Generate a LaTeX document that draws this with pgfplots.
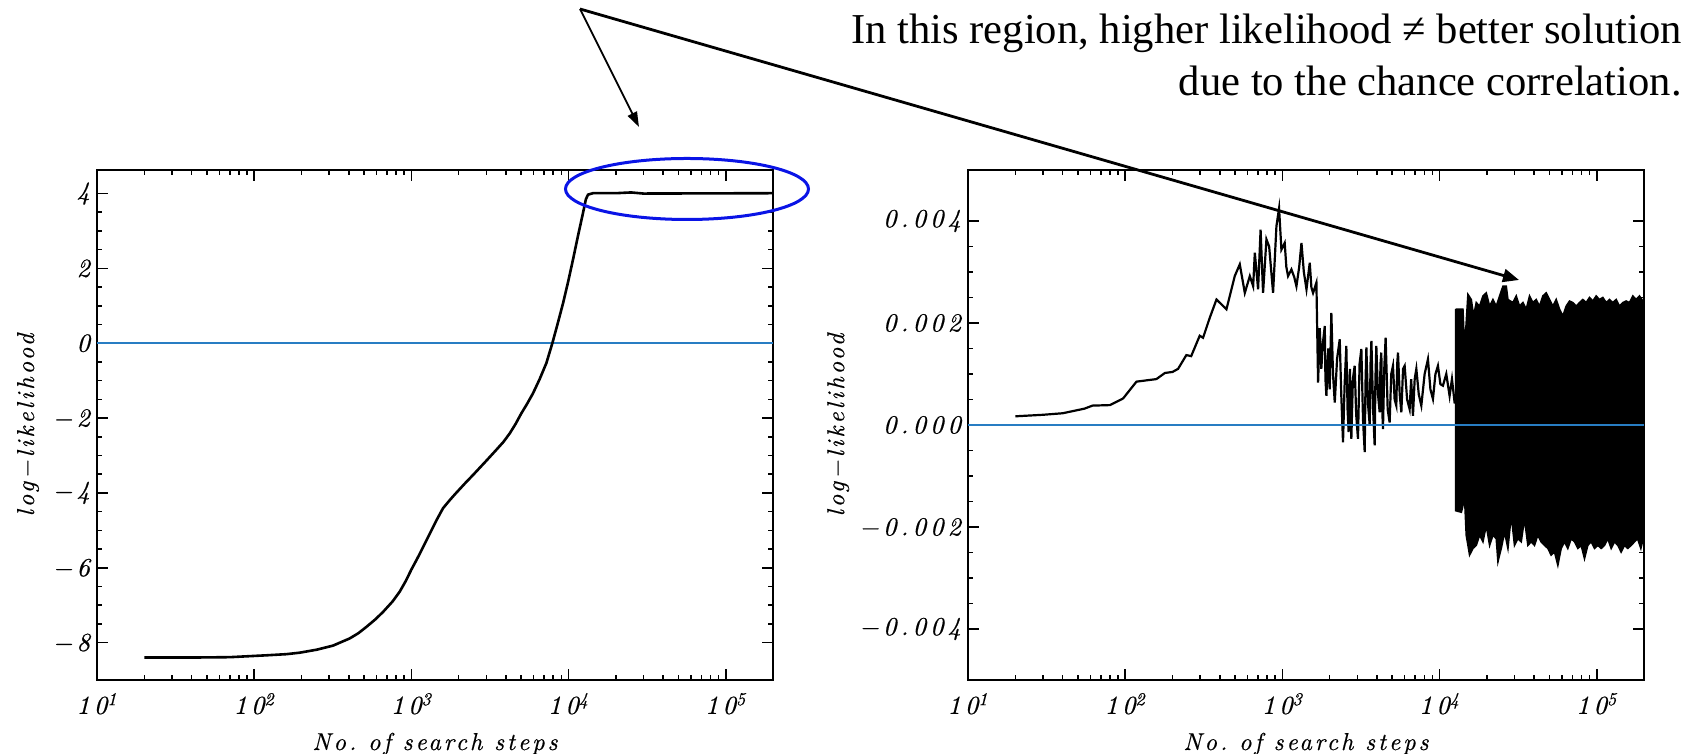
\documentclass[border=0pt]{standalone}
\usepackage{fontspec}
\usepackage{pgfplots}
\pgfplotsset{compat=1.18}
\usetikzlibrary{arrows.meta}

\newfontfamily\timesfont{Liberation Serif}
\newfontfamily\hershey{lmroman10-italic.otf}[LetterSpace=16, FakeBold=0.6]
\newfontfamily\hersheyl{lmroman10-italic.otf}[LetterSpace=12, FakeBold=0.5]
\newcommand\tickfont{\hershey\fontsize{13}{15}\selectfont}
\newcommand\labelfont{\hersheyl\fontsize{12.2}{14}\selectfont}

\definecolor{zeroblue}{RGB}{40,125,195}
\definecolor{ringblue}{RGB}{10,20,230}

\pgfplotsset{
  idlstyle/.style={
    scale only axis, width=338pt, height=255pt, anchor=south west,
    xmin=10, xmax=200000,
    xtick={10,100,1000,10000,100000},
    xticklabels={10\textsuperscript{1},10\textsuperscript{2},10\textsuperscript{3},10\textsuperscript{4},10\textsuperscript{5}},
    minor xtick={20,30,40,50,60,70,80,90,200,300,400,500,600,700,800,900,
      2000,3000,4000,5000,6000,7000,8000,9000,20000,30000,40000,50000,60000,70000,80000,90000,200000},
    tick align=inside,
    major tick length=5.5pt, minor tick length=2.5pt,
    axis line style={line width=1pt},
    every tick/.style={black, line width=0.8pt},
    tick label style={font=\tickfont},
    xticklabel style={yshift=-3pt},
    label style={font=\labelfont},
    xlabel={No.\ of search steps},
    ylabel={log−likelihood},
    xlabel style={at={(axis description cs:0.5,0)}, anchor=base, yshift=-35pt},
  }
}

\begin{document}
\begin{tikzpicture}
\path[use as bounding box] (0,0) rectangle (849.5pt,377pt);

% left panel
\begin{semilogxaxis}[idlstyle, at={(48.5pt,37pt)},
  ymin=-9, ymax=4.63,
  ytick={-8,-6,-4,-2,0,2,4},
  yticklabels={−8,−6,−4,−2,0,2,4},
  minor y tick num=3,
  ylabel style={at={(axis description cs:-0.102,0.5)}, anchor=center},
]
\addplot[zeroblue, line width=1.1pt] coordinates {(10,0) (200000,0)};
\addplot[black, line width=1.3pt] coordinates {
  (20,-8.40) (40,-8.40) (70,-8.39) (120,-8.34) (160,-8.31) (195,-8.27)
  (250,-8.19) (318,-8.08) (405,-7.89) (460,-7.75) (518,-7.58) (590,-7.38)
  (661,-7.18) (760,-6.90) (843,-6.64) (920,-6.36) (1000,-6.05) (1070,-5.82)
  (1130,-5.63) (1300,-5.12) (1450,-4.72) (1590,-4.41) (1750,-4.20)
  (1900,-4.03) (2200,-3.74) (2470,-3.52) (3000,-3.14) (3470,-2.85) (3850,-2.64)
  (4225,-2.41) (4600,-2.16) (5000,-1.88) (5450,-1.62) (5940,-1.34) (6550,-0.96)
  (7230,-0.53) (7890,0.00) (8500,0.50) (9230,1.07) (9950,1.65)
  (10670,2.23) (11500,2.88) (12360,3.48) (12900,3.85) (13300,3.97) (14300,4.01)
  (20000,4.01) (25000,4.03) (30000,4.00) (200000,4.01)
};
\end{semilogxaxis}

% right panel
\begin{semilogxaxis}[idlstyle, at={(484pt,37pt)},
  ymin=-0.005, ymax=0.005,
  ytick={-0.004,-0.002,0,0.002,0.004},
  yticklabels={−0.004,−0.002,0.000,0.002,0.004},
  minor y tick num=3, scaled y ticks=false,
  ylabel style={at={(axis description cs:-0.192,0.5)}, anchor=center},
]
\addplot[black, line width=1.1pt] coordinates {
  (20,0.00017) (30,0.0002) (40,0.00023) (55,0.00032) (62,0.00038) (80,0.00039)
  (97,0.00052) (118,0.00085) (158,0.0009) (179,0.00102) (200,0.00104)
  (217,0.0011) (245,0.00137) (263,0.00135) (298,0.00175) (313,0.00171)
  (345,0.0021) (381,0.00246) (441,0.00227) (498,0.00292) (536,0.00315)
  (577,0.00259) (621,0.00292) (652,0.00272) (668,0.00338) (701,0.00266)
  (727,0.00383) (754,0.00259) (792,0.00364) (824,0.0035) (873,0.00259)
  (917,0.0039) (953,0.00425) (986,0.00344) (1035,0.00357) (1060,0.0031)
  (1087,0.00292) (1142,0.00305) (1190,0.0029) (1229,0.00272) (1280,0.0031)
  (1323,0.00357) (1370,0.0030) (1424,0.00266) (1494,0.00318) (1530,0.0027)
  (1568,0.00259) (1647,0.00279) (1688,0.00083) (1730,0.0019) (1770,0.0011)
  (1810,0.0016) (1862,0.00194) (1880,0.0009) (1907,0.00057) (1960,0.0015)
  (2000,0.0007) (2050,0.0022) (2100,0.0010) (2155,0.00044) (2230,0.0013)
  (2318,0.00168) (2370,0.0006) (2432,-0.00034) (2490,0.0008) (2553,0.00155)
  (2600,0.0003) (2640,-0.00014) (2690,0.0011) (2748,-0.00027) (2810,0.0009)
  (2884,0.00116) (2950,0.0002) (3028,-0.00027) (3100,0.0012) (3182,0.00149)
  (3260,0.0001) (3342,-0.00053) (3380,0.0008) (3425,0.00152) (3510,0.0004)
  (3597,-0.00001) (3640,0.0012) (3686,0.00165) (3780,0.0003) (3867,-0.0004)
  (3910,0.0009) (3962,0.00155) (4060,0.0006) (4160,0.00025) (4210,0.0012)
  (4262,0.00142) (4310,0.0004) (4367,-0.00008) (4450,0.0011) (4540,0.00171)
  (4680,0.0003) (4816,0.00005) (4930,0.0010) (5056,0.00116) (5180,0.0005)
  (5310,0.00038) (5380,0.0012) (5442,0.00142) (5580,0.0006) (5716,0.00025)
  (5860,0.0011) (6000,0.00116) (6220,0.0005) (6453,0.00031) (6600,0.0009)
  (6776,0.00018) (6950,0.0009) (7120,0.0011) (7380,0.0006) (7660,0.00038)
  (8040,0.0010) (8440,0.00129) (8750,0.0007) (9080,0.00051) (9420,0.0010)
  (9770,0.00116) (10130,0.0008) (10510,0.00077) (11040,0.0010) (11590,0.00057)
  (12000,0.0009) (12470,0.00044) (12650,0.00044)
};
% dense oscillation band: upper envelope then lower envelope
\addplot[black, fill=black, line width=0.8pt] coordinates {
  (12650,0.00227) (14090,0.00227) (14440,0.00149) (15160,0.00256) (15920,0.00246)
  (16480,0.00214) (17130,0.0024) (17980,0.00233) (18890,0.00253) (19830,0.00259)
  (20830,0.00233) (21870,0.00246) (22960,0.00233) (24110,0.00253) (25320,0.00272)
  (26580,0.00272) (27240,0.00246) (29300,0.0024) (30760,0.00253) (32300,0.00233)
  (33920,0.0024) (35610,0.00227) (37390,0.00253) (39260,0.0024) (41220,0.00246)
  (43280,0.00233) (45440,0.00253) (47720,0.00259) (50120,0.00246) (52620,0.00233)
  (55250,0.00246) (58010,0.00227) (60920,0.00214) (63960,0.00233) (67150,0.00243)
  (70510,0.0024) (74040,0.00233) (77740,0.0024) (81620,0.00246) (85700,0.0024)
  (89990,0.0025) (94490,0.00243) (99200,0.00253) (104200,0.00246) (109400,0.0025)
  (114900,0.0024) (120600,0.00246) (126600,0.0024) (133000,0.00246) (139600,0.00233)
  (146600,0.0024) (153900,0.00243) (161600,0.0024) (169800,0.00253) (178200,0.00246)
  (187100,0.00253) (200000,0.0024)
  (200000,-0.00216) (191000,-0.00242) (182000,-0.00223) (174000,-0.00229)
  (165700,-0.00236) (157700,-0.00242) (150200,-0.00236) (143000,-0.00249)
  (136300,-0.00236) (129800,-0.00229) (123600,-0.00242) (117700,-0.00223)
  (112100,-0.00236) (106800,-0.00242) (101700,-0.00236) (96800,-0.00242)
  (92200,-0.00229) (87800,-0.00236) (83600,-0.00262) (79700,-0.00236)
  (75900,-0.00242) (72300,-0.00229) (68800,-0.00223) (65500,-0.00242)
  (62400,-0.00229) (59400,-0.00242) (56600,-0.00275) (53900,-0.00249)
  (51300,-0.00255) (48900,-0.00242) (46600,-0.00236) (44300,-0.00229)
  (42200,-0.00216) (40200,-0.00236) (38300,-0.00229) (36500,-0.00236)
  (34700,-0.00184) (33100,-0.00229) (31500,-0.00223) (30000,-0.00236)
  (28600,-0.00177) (27240,-0.00242) (25940,-0.0021) (24700,-0.00242)
  (23530,-0.00268) (22960,-0.00223) (21870,-0.00216) (20830,-0.00236)
  (19830,-0.00197) (18890,-0.00229) (17980,-0.00216) (17130,-0.00236)
  (16310,-0.00242) (15530,-0.00255) (14790,-0.00216) (14440,-0.00145)
  (13760,-0.00171) (12650,-0.00168) (12650,0.00227)
};
\addplot[zeroblue, line width=1.1pt] coordinates {(10,0) (200000,0)};
\end{semilogxaxis}

% annotations
\draw[ringblue, line width=1.5pt] (343.5pt,282.5pt) ellipse [x radius=60.75pt, y radius=15.25pt];
\draw[black, line width=0.9pt, -{Triangle[length=7.5pt, width=5pt]}] (290pt,372.5pt) -- (319.5pt,313.5pt);
\draw[black, line width=1.4pt, -{Triangle[length=8pt, width=6.5pt]}] (290pt,372.5pt) -- (759.5pt,237pt);
\node[anchor=base east, inner sep=0pt, font=\timesfont\fontsize{21.3}{24}\selectfont] at (841pt,355pt)
  {In this region, higher likelihood ≠ better solution};
\node[anchor=base east, inner sep=0pt, font=\timesfont\fontsize{21.3}{24}\selectfont] at (841pt,329pt)
  {due to the chance correlation.};
\end{tikzpicture}
\end{document}
